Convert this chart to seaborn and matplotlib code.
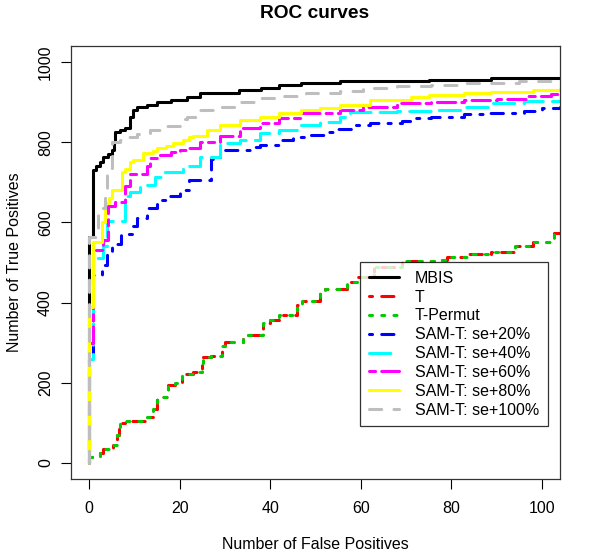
import matplotlib
matplotlib.use("Agg")
import matplotlib.pyplot as plt
import seaborn as sns
from matplotlib.lines import Line2D

# ROC curves: false positives (x) vs true positives (y)
mbis_fp = [0, 0, 0.8, 1.5, 2.4, 3.1, 4.2, 5, 5.4, 5.8, 6.9, 8, 9, 9.7, 10.6, 12.8,
           15, 18, 21.7, 24.6, 33, 38, 42, 46.7, 55.5, 75, 88.7, 104]
mbis_tp = [0, 563, 730, 740, 750, 763, 770, 780, 800, 825, 830, 835, 863, 880, 888, 893,
           900, 905, 913, 922, 930, 935, 943, 948, 953, 955, 960, 960]

t_fp = [0, 2.4, 3, 5.3, 6.2, 6.5, 6.9, 8, 12.8, 14, 15, 17.5, 19, 20.6, 23, 25, 25.2,
        27, 29.4, 30, 34, 38.3, 40, 42, 46, 47, 51, 52, 57, 59.3, 63, 69, 77, 79, 84,
        88.7, 94, 98, 102.6, 104]
t_tp = [15, 25, 35, 45, 70, 90, 100, 105, 115, 135, 165, 195, 200, 222, 228, 250, 265,
        268, 292, 302, 320, 348, 357, 368, 395, 405, 425, 435, 452, 465, 488, 503, 505,
        513, 520, 525, 540, 550, 573, 573]

# T-Permut gives the same curve as T
tperm_fp = list(t_fp)
tperm_tp = list(t_tp)

sam20_fp = [0, 0, 0.9, 2.9, 4, 5, 7, 9.5, 10.6, 12.8, 15, 17, 20, 22, 27, 29, 35.6, 37.8,
            42, 45, 48, 52, 55, 58, 62, 69, 72, 75.4, 82.7, 87, 96, 100, 104]
sam20_tp = [0, 270, 470, 495, 520, 545, 570, 590, 610, 635, 655, 665, 680, 705, 758, 780,
            788, 793, 805, 813, 818, 825, 833, 843, 848, 853, 860, 863, 870, 873, 878, 885, 888]

sam40_fp = [0, 0, 0.9, 3.1, 4, 8, 9, 11.3, 14.6, 16.8, 20.8, 24.6, 29, 33.4, 37.8, 42,
            46.7, 51, 55.5, 57.7, 68, 75.4, 82.7, 88.7, 96, 104]
sam40_tp = [0, 260, 510, 540, 603, 665, 675, 693, 713, 725, 740, 763, 798, 805, 823, 830,
            843, 850, 863, 875, 878, 880, 888, 898, 903, 903]

sam60_fp = [0, 0, 0.9, 3.1, 4.2, 5.8, 8, 9, 12.8, 13.5, 15.7, 18, 20, 22, 24.6, 29, 33.4,
            37.8, 42, 46.7, 55.5, 60.6, 68, 75.4, 82.7, 90, 97, 102, 104]
sam60_tp = [0, 300, 530, 555, 640, 650, 690, 720, 740, 760, 768, 775, 780, 785, 800, 815,
            835, 848, 860, 872, 880, 888, 898, 900, 905, 908, 915, 920, 922]

sam80_fp = [0, 0, 0.8, 2.9, 3.5, 4.4, 5, 7.3, 8, 9, 9.7, 12, 14, 15, 17, 18.6, 20.8, 22,
            23, 26, 29, 33.4, 37.8, 42, 46.7, 51, 55.5, 62, 71, 75, 82.7, 88.7, 98, 104]
sam80_tp = [0, 390, 551, 600, 648, 660, 680, 725, 733, 750, 755, 773, 777, 785, 790, 798,
            805, 812, 815, 830, 843, 855, 863, 872, 880, 885, 893, 905, 913, 918, 923, 925,
            930, 932]

sam100_fp = [0, 0, 2, 3.5, 4, 5, 6.9, 8, 10.6, 13.5, 15.7, 20, 21.7, 24.6, 29, 33.4, 37.8,
             42, 48, 55.5, 60.6, 68, 75.4, 82.7, 95, 104]
sam100_tp = [0, 563, 635, 680, 735, 800, 805, 812, 820, 830, 840, 857, 862, 880, 888, 900,
             910, 915, 922, 928, 935, 940, 943, 948, 953, 955]

series_names = ["MBIS", "T", "T-Permut", "SAM-T: se+20%", "SAM-T: se+40%",
                "SAM-T: se+60%", "SAM-T: se+80%", "SAM-T: se+100%"]
x_ticks = [0, 20, 40, 60, 80, 100]
y_ticks = [0, 200, 400, 600, 800, 1000]

series_data = [(mbis_fp, mbis_tp), (t_fp, t_tp), (tperm_fp, tperm_tp),
               (sam20_fp, sam20_tp), (sam40_fp, sam40_tp), (sam60_fp, sam60_tp),
               (sam80_fp, sam80_tp), (sam100_fp, sam100_tp)]
colors = ["black", "#ff0000", "#00cd00", "#0000ff", "#00ffff", "#ff00ff", "#ffff00", "#bebebe"]
# R style line types (lty 1, 4, 3, 4, 5, 6, 1, 2)
styles = ["-", (0, (1, 3, 4, 3)), (0, (1, 3)), (0, (1, 3, 4, 3)), (0, (7, 3)),
          (0, (2, 2, 6, 2)), "-", (0, (4, 4))]

sns.set_style("white")
plt.rcParams['font.family'] = ['Liberation Sans', 'DejaVu Sans']
plt.rcParams['text.color'] = 'black'
plt.rcParams['axes.labelcolor'] = 'black'
plt.rcParams['xtick.color'] = 'black'
plt.rcParams['ytick.color'] = 'black'

fig = plt.figure(figsize=(6, 5.57), dpi=100)
ax = fig.add_axes([71 / 600, 1 - 479 / 557, 489 / 600, 433 / 557])

lw = 2.2
for (fp, tp), c, ls in zip(series_data, colors, styles):
    sns.lineplot(x=fp, y=tp, ax=ax, color=c, linewidth=lw, linestyle=ls,
                 drawstyle="steps-post", estimator=None, sort=False,
                 dash_capstyle="round", solid_capstyle="round")

ax.set_xlim(-4, 104)
ax.set_ylim(-40, 1040)
ax.set_xticks(x_ticks)
ax.set_yticks(y_ticks)
ax.set_yticklabels([str(v) for v in y_ticks], rotation=90, va="center")
ax.tick_params(axis="both", direction="out", length=7, width=0.8, color="black",
               labelcolor="black", labelsize=11.5, bottom=True, left=True)
ax.tick_params(axis="x", pad=9)
ax.tick_params(axis="y", pad=6)
for sp in ax.spines.values():
    sp.set_color("#333333")
    sp.set_linewidth(0.9)

ax.set_xlabel("Number of False Positives", fontsize=11.5, color="black")
ax.set_ylabel("Number of True Positives", fontsize=11.5, color="black")
ax.xaxis.set_label_coords(0.5, -0.135)
ax.yaxis.set_label_coords(-0.10, 0.5)
fig.text(315 / 600, 1 - 14 / 557, "ROC curves", ha="center", va="center",
         fontsize=13.8, fontweight="bold", color="black")

# legend box like R's legend()
handles = [Line2D([0], [0], color=c, linewidth=lw, linestyle=ls,
                  dash_capstyle="round", solid_capstyle="round")
           for c, ls in zip(colors, styles)]
leg = ax.legend(handles, series_names, loc="upper left",
                bbox_to_anchor=((360 - 71) / 489, (479 - 262) / 433),
                borderaxespad=0, fontsize=11.5, frameon=True, fancybox=False,
                handlelength=1.9, handletextpad=1.0, labelspacing=0.24,
                borderpad=0.55)
leg.get_frame().set_edgecolor("black")
leg.get_frame().set_linewidth(0.9)
for txt in leg.get_texts():
    txt.set_color("black")

fig.savefig("out.png", dpi=100)
